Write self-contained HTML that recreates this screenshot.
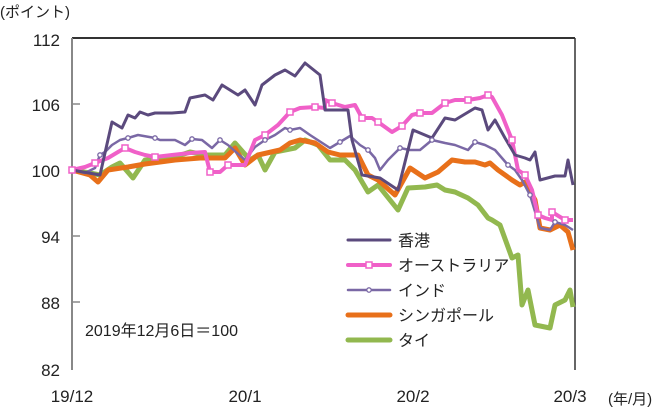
<!DOCTYPE html>
<html><head><meta charset="utf-8"><style>
body{margin:0;background:#fff}
svg{display:block;font-family:"Liberation Sans","Noto Sans CJK JP",sans-serif}
</style></head><body>
<svg width="665" height="413" viewBox="0 0 665 413">
<rect width="665" height="413" fill="#fff"/>
<text x="0" y="17" font-size="15" fill="#222">(ポイント)</text>
<line x1="72" y1="38" x2="575" y2="38" stroke="#333" stroke-width="2"/>
<line x1="575" y1="38" x2="575" y2="370" stroke="#333" stroke-width="1.5"/>
<line x1="72" y1="38" x2="72" y2="370" stroke="#888" stroke-width="2"/>
<g stroke="#888" stroke-width="1.5">
<line x1="72" y1="104" x2="80" y2="104"/><line x1="72" y1="170" x2="80" y2="170"/><line x1="72" y1="236" x2="80" y2="236"/><line x1="72" y1="302" x2="80" y2="302"/>
</g>
<g font-size="17" fill="#222" text-anchor="end">
<text x="60" y="46">112</text><text x="60" y="111">106</text><text x="60" y="177">100</text><text x="60" y="243">94</text><text x="60" y="309">88</text><text x="60" y="376">82</text>
</g>
<g font-size="17" fill="#222" text-anchor="middle">
<text x="72" y="402">19/12</text><text x="245" y="402">20/1</text><text x="413" y="402">20/2</text><text x="570" y="402">20/3</text>
</g>
<text x="608" y="404" font-size="15" fill="#222">(年/月)</text>
<g fill="none" stroke-linejoin="round">
<polyline stroke="#92b84f" stroke-width="5" points="72,170 90,173 100,175 112,167 120,163 133,178 145,160 158,160 175,157 190,152 205,155 225,155 235,143 250,160 258,155 265,170 275,152 295,148 305,140 318,145 330,160 345,160 355,170 368,192 378,185 398,210 408,188 425,187 437,185 445,190 455,192 468,198 478,205 488,218 492,220 500,225 512,258 518,255 522,305 528,290 535,325 550,328 555,305 565,300 570,290 573,307"/>
<polyline stroke="#e8701a" stroke-width="5" points="72,170 90,175 98,182 108,170 128,167 145,164 175,160 200,158 225,158 235,148 245,165 258,155 280,150 290,143 300,140 315,143 328,152 340,155 358,155 368,175 378,180 395,195 410,168 425,178 438,172 452,160 465,162 475,162 485,165 490,163 498,170 512,180 520,185 525,182 535,200 540,228 550,230 560,225 568,232 573,250"/>
<polyline stroke="#7a68a5" stroke-width="2.5" points="72,170 85,173 95,168 100,155 105,152 112,145 120,140 128,138 138,135 155,138 160,140 175,140 185,145 192,139 202,140 212,148 220,140 228,145 245,160 255,147 265,140 275,135 285,128 290,130 300,128 310,135 330,148 340,142 350,136 360,145 368,150 375,158 380,170 388,160 400,148 410,150 420,150 432,140 445,143 455,145 468,150 475,142 485,145 495,150 508,165 515,170 522,180 530,195 540,228 550,230 555,222 565,225 573,230"/>
<polyline stroke="#f060c8" stroke-width="4" points="72,170 85,167 95,163 108,158 118,152 125,148 135,152 145,155 155,157 172,155 190,153 205,152 210,172 220,172 228,165 245,165 255,140 265,135 278,125 290,112 300,108 315,107 325,108 325,100 332,103 345,107 355,105 362,118 372,118 378,122 392,132 402,126 412,115 420,113 432,113 445,103 455,100 468,100 480,98 488,95 492,97 502,115 512,140 518,170 525,175 532,190 538,215 545,218 552,220 552,212 565,220 573,220"/>
<polyline stroke="#5b4a7d" stroke-width="3" points="72,170 100,175 112,122 122,128 128,115 135,118 140,112 148,115 155,113 172,113 185,112 190,98 205,95 213,100 222,85 238,95 245,90 255,105 262,85 275,75 285,70 295,76 305,63 320,75 325,110 335,110 348,110 352,140 362,175 380,178 398,190 413,130 432,138 445,118 455,120 475,108 482,110 488,130 495,120 505,138 515,155 525,158 530,160 535,152 540,180 555,176 565,176 568,160 573,185"/>
</g>
<g fill="#fff" stroke="#f060c8" stroke-width="1.5">
<rect x="69" y="167" width="6" height="6"/><rect x="92" y="160" width="6" height="6"/><rect x="122" y="145" width="6" height="6"/><rect x="152" y="154" width="6" height="6"/><rect x="207" y="169" width="6" height="6"/><rect x="225" y="162" width="6" height="6"/><rect x="262" y="132" width="6" height="6"/><rect x="287" y="109" width="6" height="6"/><rect x="312" y="104" width="6" height="6"/><rect x="329" y="100" width="6" height="6"/><rect x="359" y="115" width="6" height="6"/><rect x="375" y="119" width="6" height="6"/><rect x="399" y="123" width="6" height="6"/><rect x="417" y="110" width="6" height="6"/><rect x="442" y="100" width="6" height="6"/><rect x="465" y="97" width="6" height="6"/><rect x="485" y="92" width="6" height="6"/><rect x="509" y="137" width="6" height="6"/><rect x="522" y="172" width="6" height="6"/><rect x="535" y="212" width="6" height="6"/><rect x="549" y="209" width="6" height="6"/><rect x="562" y="217" width="6" height="6"/>
</g>
<g fill="#fff" stroke="#7a68a5" stroke-width="1.3">
<circle cx="100" cy="155" r="2.2"/><circle cx="128" cy="138" r="2.2"/><circle cx="155" cy="138" r="2.2"/><circle cx="192" cy="139" r="2.2"/><circle cx="220" cy="140" r="2.2"/><circle cx="265" cy="140" r="2.2"/><circle cx="290" cy="130" r="2.2"/><circle cx="340" cy="142" r="2.2"/><circle cx="368" cy="150" r="2.2"/><circle cx="400" cy="148" r="2.2"/><circle cx="432" cy="140" r="2.2"/><circle cx="475" cy="142" r="2.2"/><circle cx="508" cy="165" r="2.2"/><circle cx="530" cy="195" r="2.2"/><circle cx="555" cy="222" r="2.2"/>
</g>
<g stroke-linecap="round">
<line x1="348" y1="240" x2="390" y2="240" stroke="#5b4a7d" stroke-width="3"/>
<line x1="348" y1="265" x2="390" y2="265" stroke="#f060c8" stroke-width="4"/>
<rect x="366" y="262" width="6" height="6" fill="#fff" stroke="#f060c8" stroke-width="1.5"/>
<line x1="348" y1="290" x2="390" y2="290" stroke="#7a68a5" stroke-width="2.5"/>
<circle cx="369" cy="290" r="2.2" fill="#fff" stroke="#7a68a5" stroke-width="1.3"/>
<line x1="348" y1="315" x2="390" y2="315" stroke="#e8701a" stroke-width="5"/>
<line x1="348" y1="340" x2="390" y2="340" stroke="#92b84f" stroke-width="5"/>
</g>
<g font-size="16" fill="#222">
<text x="398" y="246">香港</text><text x="398" y="271">オーストラリア</text><text x="398" y="296">インド</text><text x="398" y="321">シンガポール</text><text x="398" y="346">タイ</text>
<text x="85" y="336">2019年12月6日＝100</text>
</g>
</svg>
</body></html>
